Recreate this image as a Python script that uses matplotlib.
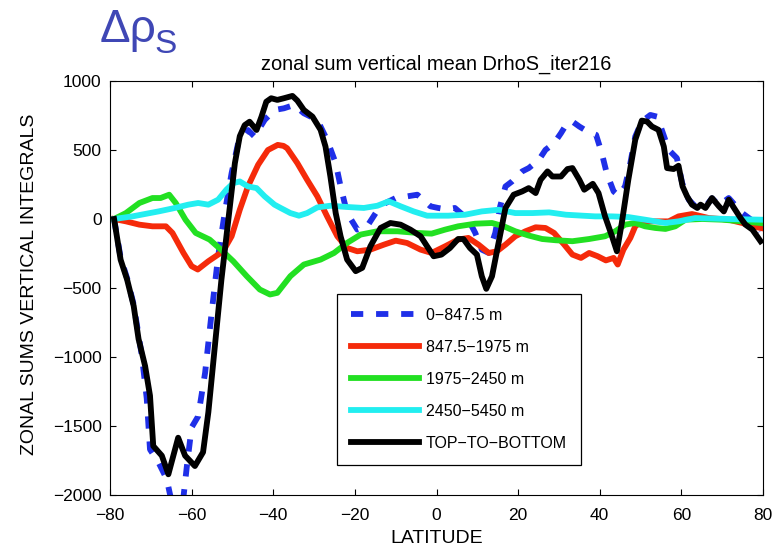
import matplotlib
matplotlib.use('Agg')
import matplotlib.pyplot as plt

plt.rcParams['font.family'] = ['Liberation Sans', 'DejaVu Sans']

# zonal sums of vertical integrals, one series per depth layer
lat_top = [-79, -77.4, -75.8, -74.2, -72.2, -71, -70.2, -68.1, -66.1, -65.3, -64, -62.5, -61.2,
           -60, -58.4, -56.7, -55.1, -53.5, -51.9, -50.2, -48.6, -46.2, -44.6, -42.1, -39.7,
           -37.4, -34.9, -32.5, -29.2, -26.8, -24.7, -23.5, -21.9, -19.4, -17, -14.9, -12.5,
           -10, -7.2, -4.7, -1.5, 0.4, 2.5, 4.5, 7.8, 9.5, 11.1, 12.8, 14.4, 15.6, 16.9, 18.5,
           21, 22.6, 25.1, 26.7, 28.8, 30.5, 32.1, 33.3, 35, 37, 39.1, 40.5, 41.7, 43.4, 44.6,
           46.2, 47.5, 48.7, 50.3, 52.4, 54, 55.2, 56.9, 58.9, 60.2, 61.8, 63.4, 65.9, 67.5,
           69.2, 71.6, 74.9, 78.2, 79.4]
val_top = [0, -280, -430, -620, -990, -1300, -1670, -1765, -1885, -1995, -2150, -2150, -1800,
           -1510, -1430, -1115, -680, -270, 43, 333, 550, 645, 598, 718, 790,
           802, 826, 766, 718, 573, 405, 236, 43, -77, -53, 43, 116,
           152, 164, 176, 92, 80, 70, 80, -5, -101, -222, -246, -101, 92, 236, 272,
           345, 369, 429, 501, 549, 622, 699, 706, 670, 634, 610, 477, 333, 200, 169,
           236, 405, 598, 706, 754, 742, 646, 501, 441, 260, 140, 92, 90, 150,
           100, 152, 43, -29, -89]

lat_mid = [-79, -76.1, -72.8, -69.6, -66.3, -64.7, -62, -60, -58.5, -55.9, -52.3, -50.2, -48.2,
           -46.2, -43.7, -41.3, -38.9, -37.5, -36.6, -34.1, -31.7, -29.2, -26.8, -24.3, -21.9,
           -19.4, -16.2, -12.9, -10, -7.2, -3.9, -1.2, 2.1, 5.3, 7.8, 10.3, 12.8, 14.8, 16.9,
           19.3, 21.8, 24.3, 26.7, 28.8, 31.3, 33.3, 35.4, 37.4, 39.5, 41.5, 43.4, 44.4, 45.8,
           47.5, 48.7, 50.3, 53.6, 56.9, 59.3, 62.6, 66.7, 71.6, 74.9, 77.4, 79.4]
val_mid = [0, -17, -41, -53, -53, -101, -246, -342, -366, -306, -234, -125, 67,
           236, 393, 500, 537, 530, 513, 405, 284, 164, 19, -125, -210,
           -234, -222, -186, -157, -174, -222, -246, -198, -149, -137, -186, -246, -234, -186,
           -125, -89, -60, -65, -101, -186, -258, -282, -246, -270, -300, -282, -330, -222,
           -137, -53, -17, -17, -17, 19, 36, 7, -5, -29, -53, -65]

lat_deep = [-79, -76.1, -72.8, -69.6, -67.6, -65.5, -63.9, -61.5, -59, -55.6, -52.8, -49.8, -46.5,
            -43.3, -40.8, -39, -35.8, -32.5, -28.4, -25.1, -21.9, -18.6, -14.5, -9.6, -4.7,
            -1.2, 2.1, 5.3, 9.5, 13.6, 16.5, 19.3, 22.6, 25.9, 29.2, 33.3, 37.4, 41.3, 43.8,
            46.2, 48.7, 51.1, 53.6, 56.1, 58.5, 61, 65.1, 70, 74.9, 79.4]
val_deep = [0, 43, 116, 152, 152, 176, 116, -5, -101, -149, -222, -306, -414,
            -511, -547, -535, -414, -330, -294, -246, -173, -113, -89, -89, -101,
            -106, -77, -53, -34, -29, -53, -89, -120, -145, -154, -161, -145, -125, -89,
            -41, -29, -53, -65, -72, -53, -5, 0, -5, -17, -29]

lat_abyss = [-79, -74.5, -68.1, -64.1, -60.8, -58.4, -55.9, -53.5, -51.5, -49.8, -48.2, -46.2,
             -44.1, -42.1, -39.7, -38.2, -35.8, -33.7, -31.7, -29.2, -26, -21.9, -17.8, -14.5,
             -11.7, -8.8, -5.6, -2.3, 2.9, 7, 11.1, 15.2, 19.3, 23.5, 27.6, 31.7, 35.8, 38.9,
             43, 47, 51.1, 56.1, 59.3, 63.4, 71.6, 79.4]
val_abyss = [0, 19, 55, 80, 104, 116, 104, 140, 212, 260, 272, 236,
             224, 164, 104, 80, 43, 24, 43, 84, 96, 87, 80, 96,
             128, 92, 55, 24, 24, 31, 55, 67, 43, 43, 48, 31, 24, 19,
             19, 14, -5, -29, -17, 7, 0, -5]

lat_total = [-79, -77.4, -75.8, -74.2, -73, -71.4, -70.2, -69.4, -67.3, -65.7, -63.3, -61.6, -59.2,
             -57.2, -55.9, -54.3, -52.7, -51.1, -49.4, -48.2, -47, -45.8, -44.1, -42.9, -41.7,
             -40.5, -39, -37.4, -35.3, -34.1, -32.5, -30.4, -28.4, -27.2, -26, -24.7, -23.5,
             -21.9, -19.8, -18.2, -16.2, -13.7, -11.3, -8.8, -6.4, -3.9, -2.3, -0.7, 1.2, 3.3,
             5.3, 6.6, 8.2, 9.9, 11.1, 12.2, 13.6, 15.2, 16.9, 18.9, 21, 22.6, 24.3, 25.5, 27.2,
             28.4, 30.5, 32.1, 33.3, 35, 36.2, 38.3, 39.7, 41.3, 43, 44.2, 45.4, 47, 48.7, 50.3,
             51.6, 52.8, 54.4, 55.7, 56.5, 58.1, 59.3, 60.3, 61.4, 62.6, 63.9, 64.7, 65.9, 67.5,
             69.2, 70.4, 71.6, 72.9, 74.5, 75.7, 77.4, 79.4]
val_total = [0, -295, -440, -630, -870, -1065, -1280, -1645, -1715, -1850, -1585, -1715, -1790,
             -1690, -1400, -920, -440, -30, 405, 600, 680, 705, 645, 740, 850,
             875, 863, 875, 892, 858, 790, 742, 646, 525, 308, 43, -125,
             -294, -378, -354, -198, -65, -29, -41, -77, -125, -198, -270, -258, -210,
             -145, -145, -210, -258, -415, -506, -415, -174, 80, 176, 200, 224, 188, 284, 345,
             308, 308, 362, 369, 284, 212, 255, 188, 19, -125, -234, -29, 284, 574, 713,
             706, 670, 646, 525, 369, 362, 386, 236, 164, 104, 80, 104, 80, 152,
             92, 55, 140, 80, 7, -41, -77, -161]

labels = ['0\u2212847.5 m', '847.5\u22121975 m', '1975\u22122450 m', '2450\u22125450 m', 'TOP\u2212TO\u2212BOTTOM']

fig = plt.figure(figsize=(7.76, 5.46), dpi=100)
ax = fig.add_axes([110 / 776, 51 / 546, 653 / 776, 414 / 546])

lw = 4.2
ax.plot(lat_top, val_top, color='#1f2fe8', lw=lw, dashes=(2.1, 2.2), label=labels[0])
ax.plot(lat_mid, val_mid, color='#f52a0a', lw=lw, label=labels[1])
ax.plot(lat_deep, val_deep, color='#22e022', lw=lw, label=labels[2])
ax.plot(lat_abyss, val_abyss, color='#22eef0', lw=lw, label=labels[3])
ax.plot(lat_total, val_total, color='black', lw=lw, label=labels[4])

ax.set_xlim(-80, 80)
ax.set_ylim(-2000, 1000)
ax.set_xticks(range(-80, 81, 20))
ax.set_yticks(range(-2000, 1001, 500))
ax.tick_params(direction='in', length=4.5, width=0.8, top=True, right=True, labelsize=12.5)
ax.tick_params(axis='x', pad=9.5)
ax.tick_params(axis='y', pad=6)
for s in ax.spines.values():
    s.set_linewidth(0.8)

ax.set_xlabel('LATITUDE', fontsize=14, labelpad=5)
ax.set_ylabel('ZONAL SUMS VERTICAL INTEGRALS', fontsize=14)
ax.yaxis.set_label_coords(-0.11, 0.51)
ax.set_title('zonal sum vertical mean DrhoS_iter216', fontsize=14.4, pad=8)

leg = ax.legend(loc='upper left', bbox_to_anchor=(337 / 776, 1 - 294 / 546),
                bbox_transform=fig.transFigure, borderaxespad=0, fontsize=11.5,
                handlelength=4.25, handletextpad=0.45, labelspacing=1.06, borderpad=0.88,
                fancybox=False, framealpha=1, edgecolor='black')
leg.get_frame().set_linewidth(0.9)

# quantity name in the upper left corner
dr = fig.text(100 / 776, 1 - 42 / 546, '\u0394\u03c1', fontsize=33, color='#3f47b5',
              ha='left', va='baseline')
ax.annotate('S', xy=(1, 0), xycoords=dr, xytext=(-1.5, -1), textcoords='offset points',
            fontsize=24, color='#3f47b5', ha='left', va='baseline', annotation_clip=False)

fig.savefig('out.png', dpi=100)
